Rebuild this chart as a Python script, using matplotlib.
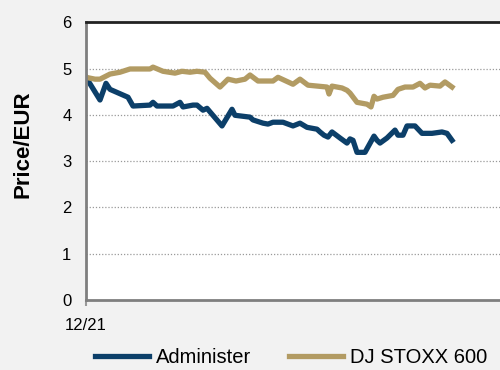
import matplotlib
matplotlib.use("Agg")
import matplotlib.pyplot as plt

plt.rcParams['font.family'] = ['Liberation Sans', 'DejaVu Sans']

# trading days since 12/21 (approximate) and prices in EUR
ADM_DAYS = [0, 14, 20, 24, 42, 47, 64, 67, 71, 87, 94, 97, 107, 111, 117, 121,
            136, 146, 149, 164, 167, 177, 182, 187, 197, 207, 214, 221, 231,
            234, 238, 242, 246, 254, 261, 264, 267, 271, 279, 288, 291, 294,
            301, 309, 312, 317, 321, 329, 336, 346, 356, 361, 366]
ADM_PRICE = [4.81, 4.32, 4.68, 4.55, 4.38, 4.19, 4.21, 4.27, 4.19, 4.19, 4.27,
             4.17, 4.21, 4.21, 4.10, 4.14, 3.76, 4.12, 3.99, 3.95, 3.89, 3.82,
             3.80, 3.84, 3.84, 3.76, 3.82, 3.73, 3.69, 3.63, 3.56, 3.52, 3.63,
             3.50, 3.39, 3.48, 3.45, 3.19, 3.19, 3.54, 3.45, 3.39, 3.50, 3.67,
             3.56, 3.56, 3.76, 3.76, 3.60, 3.60, 3.63, 3.60, 3.45]

STOXX_DAYS = [0, 9, 14, 24, 34, 44, 64, 67, 77, 89, 96, 104, 111, 119, 124,
              134, 142, 150, 159, 164, 172, 187, 192, 207, 214, 222, 241, 243,
              246, 256, 261, 264, 271, 281, 285, 288, 291, 297, 307, 312, 319,
              327, 334, 339, 344, 354, 359, 366]
STOXX_PRICE = [4.81, 4.77, 4.77, 4.88, 4.92, 4.99, 4.99, 5.03, 4.94, 4.90,
               4.94, 4.92, 4.94, 4.92, 4.79, 4.60, 4.77, 4.73, 4.77, 4.86,
               4.73, 4.73, 4.81, 4.66, 4.77, 4.64, 4.60, 4.45, 4.62, 4.58,
               4.53, 4.47, 4.27, 4.23, 4.17, 4.40, 4.34, 4.38, 4.42, 4.55,
               4.60, 4.60, 4.68, 4.58, 4.64, 4.62, 4.71, 4.60]

X_TICKS = [0]
X_TICK_LABELS = ["12/21"]
Y_TICKS = [0, 1, 2, 3, 4, 5, 6]

BLUE = "#0c3f69"
GOLD = "#b29b63"

fig = plt.figure(figsize=(5, 3.7), dpi=100)
fig.patch.set_facecolor("#f2f2f2")
ax = fig.add_axes([0.172, 0.189, 0.868, 0.751])
ax.set_facecolor("white")

ax.plot(ADM_DAYS, ADM_PRICE, color=BLUE, lw=3.8, solid_joinstyle="round",
        label="Administer")
ax.plot(STOXX_DAYS, STOXX_PRICE, color=GOLD, lw=3.8, solid_joinstyle="round",
        label="DJ STOXX 600")

ax.set_xlim(0, 434)
ax.set_ylim(0, 6)
ax.set_yticks(Y_TICKS)
ax.set_xticks(X_TICKS)
ax.set_xticklabels(X_TICK_LABELS)
ax.tick_params(axis="y", length=0, pad=10.5, labelsize=12)
ax.tick_params(axis="x", length=4, width=1.5, color="#999999", pad=9,
               labelsize=12)

for y in Y_TICKS[1:-1]:
    ax.axhline(y, color="#9a9a9a", lw=0.9, ls=(0, (1, 1.5)), zorder=0)

ax.spines["right"].set_visible(False)
ax.spines["top"].set_color("#222222")
ax.spines["top"].set_linewidth(2)
for side in ("left", "bottom"):
    ax.spines[side].set_color("#7f7f7f")
    ax.spines[side].set_linewidth(2)

ax.set_ylabel("Price/EUR", fontsize=16, fontweight="bold")
ax.yaxis.set_label_coords(-0.12, 0.56)

fig.legend(loc="center left", bbox_to_anchor=(0.19, 0.034), ncol=2,
           frameon=False, fontsize=14.5, handlelength=2.7, handletextpad=0.35,
           columnspacing=1.85, borderpad=0, borderaxespad=0)

fig.savefig("out.png", dpi=100, facecolor=fig.get_facecolor())
